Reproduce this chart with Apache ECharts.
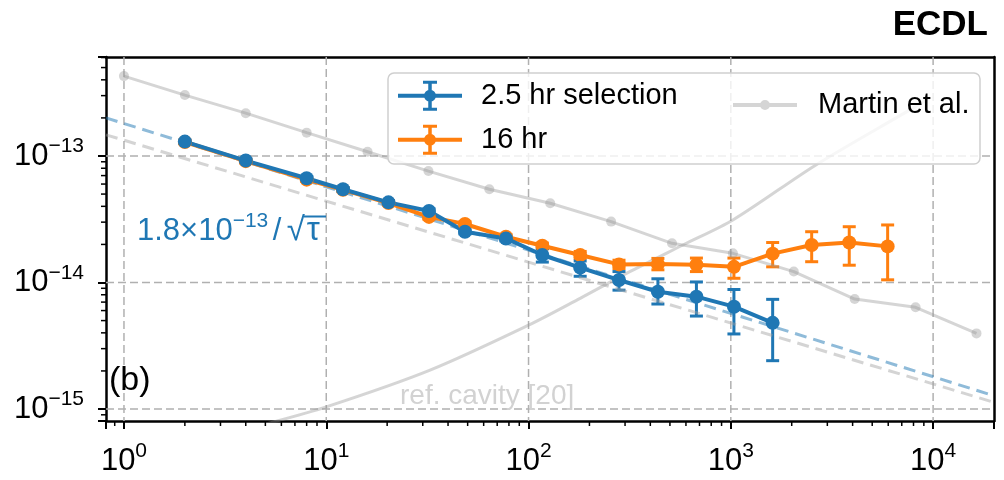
<!DOCTYPE html>
<html><head><meta charset="utf-8">
<script src="https://cdn.jsdelivr.net/npm/echarts@6/dist/echarts.min.js"></script>
<style>html,body{margin:0;padding:0;background:#fff}#c{width:1004px;height:480px}</style>
</head><body><div id="c"></div>
<script>
// ---------- data ----------
const blueTau = [2, 4, 8, 12.1, 20.3, 32.2, 48.5, 77.3, 117, 180, 280, 436, 676, 1036, 1610];
const blueDev = [1.30e-13, 9.2e-14, 6.67e-14, 5.46e-14, 4.3e-14, 3.67e-14, 2.52e-14, 2.23e-14, 1.65e-14, 1.31e-14, 1.047e-14, 8.45e-15, 7.73e-15, 6.44e-15, 4.8e-15];
const blueLo  = [1.26e-13, 8.9e-14, 6.45e-14, 5.28e-14, 4.15e-14, 3.52e-14, 2.42e-14, 2.13e-14, 1.45e-14, 1.12e-14, 8.7e-15, 6.76e-15, 5.43e-15, 3.92e-15, 2.41e-15];
const blueHi  = [1.34e-13, 9.5e-14, 6.9e-14, 5.64e-14, 4.45e-14, 3.82e-14, 2.62e-14, 2.33e-14, 1.85e-14, 1.48e-14, 1.22e-14, 1.07e-14, 1.01e-14, 8.8e-15, 7.36e-15];

const orangeTau = [2, 4, 8, 12.1, 20.3, 32.2, 48.5, 77.3, 117, 180, 280, 436, 676, 1036, 1610, 2510, 3850, 5960];
const orangeDev = [1.29e-13, 9.1e-14, 6.5e-14, 5.4e-14, 4.25e-14, 3.3e-14, 2.9e-14, 2.3e-14, 1.95e-14, 1.65e-14, 1.39e-14, 1.40e-14, 1.38e-14, 1.33e-14, 1.69e-14, 1.98e-14, 2.07e-14, 1.93e-14];
const orangeLo  = [1.25e-13, 8.8e-14, 6.3e-14, 5.22e-14, 4.1e-14, 3.17e-14, 2.78e-14, 2.2e-14, 1.85e-14, 1.55e-14, 1.29e-14, 1.26e-14, 1.22e-14, 1.08e-14, 1.33e-14, 1.46e-14, 1.37e-14, 1.05e-14];
const orangeHi  = [1.33e-13, 9.4e-14, 6.7e-14, 5.58e-14, 4.4e-14, 3.43e-14, 3.02e-14, 2.4e-14, 2.05e-14, 1.76e-14, 1.50e-14, 1.55e-14, 1.56e-14, 1.56e-14, 2.07e-14, 2.52e-14, 2.76e-14, 2.85e-14];

const martinTau = [1, 2, 4, 8, 16, 32, 64, 128, 256, 512, 1024, 2048, 4096, 8192, 16384];
const martinDev = [4.28e-13, 3.03e-13, 2.18e-13, 1.53e-13, 1.08e-13, 7.6e-14, 5.46e-14, 4.23e-14, 3.03e-14, 2.04e-14, 1.7e-14, 1.22e-14, 7.4e-15, 6.37e-15, 3.96e-15];

const cavityTau = [5, 10, 32.6, 100, 180, 305, 580, 1024, 2634, 7940, 9600];
const cavityDev = [7.6e-16, 1.04e-15, 2.03e-15, 4.6e-15, 7.5e-15, 1.18e-14, 1.98e-14, 3.12e-14, 8.5e-14, 2.39e-13, 2.87e-13];

// straight guide lines on log-log axes: end points at the plot edges
const fitTau = [0.815, 20000];
const fitDev = [2.0e-13, 1.273e-15];      // 1.8e-13 / sqrt(tau)
const refTau = [0.815, 20000];
const refDev = [1.47e-13, 1.13e-15];

// axes
const xMin = 0.815, xMax = 20000, yMin = 8.04e-16, yMax = 6.06e-13;
const xMajor = [1, 10, 100, 1000, 10000];
const yMajor = [1e-15, 1e-14, 1e-13];
const legendNames = ['2.5 hr selection', '16 hr', 'Martin et al.'];

// ---------- helpers ----------
const FONT = "'Liberation Sans', Arial, sans-serif";
const BLUE = '#1f77b4', ORANGE = '#ff7f0e';
const GRAYA = 'rgba(150,150,150,0.4)';
const zip = (a, b) => a.map((v, i) => [v, b[i]]);
const GRID = { left: 106, top: 57, right: 10, bottom: 59 };

function minorValues(lo, hi, e0, e1) {
  const out = [];
  for (let e = e0; e <= e1; e++) for (let m = 2; m <= 9; m++) {
    const v = m * Math.pow(10, e);
    if (v >= lo && v <= hi) out.push(v);
  }
  return out;
}
const xMinor = minorValues(xMin, xMax, -1, 4);
const yMinor = minorValues(yMin, yMax, -16, -13);

function powLabel(v) {
  const e = Math.log10(v), r = Math.round(e);
  if (Math.abs(e - r) > 1e-6) return '';
  const s = r < 0 ? '\u2212' + (-r) : String(r);
  return '{b|10}{s|' + s + '}';
}
const labelRich = {
  b: { fontSize: 31, lineHeight: 40, fontFamily: FONT, color: '#000' },
  s: { fontSize: 21, lineHeight: 14, verticalAlign: 'top', fontFamily: FONT, color: '#000' }
};

function errSeries(name, xs, lo, hi, color) {
  return {
    type: 'custom', name: name, silent: true, clip: false,
    data: xs.map((x, i) => [x, lo[i], hi[i]]),
    encode: { x: 0, y: [1, 2] },
    renderItem: (params, api) => {
      const x = api.value(0);
      const a = api.coord([x, api.value(1)]), b = api.coord([x, api.value(2)]);
      const hw = 6.5, st = { stroke: color, lineWidth: 3 };
      return { type: 'group', children: [
        { type: 'line', shape: { x1: a[0], y1: a[1], x2: b[0], y2: b[1] }, style: st },
        { type: 'line', shape: { x1: a[0] - hw, y1: a[1], x2: a[0] + hw, y2: a[1] }, style: st },
        { type: 'line', shape: { x1: b[0] - hw, y1: b[1], x2: b[0] + hw, y2: b[1] }, style: st }
      ]};
    }
  };
}

// short ticks (minor) or full dashed grid lines (major) placed via the axes' scales
function tickSeries(name, vals, isX, kind) {
  return {
    type: 'custom', name: name, silent: true, clip: false, z: kind === 'grid' ? 1 : 5,
    data: vals.map(v => isX ? [v, 1e-14] : [10, v]),
    renderItem: (params, api) => {
      const p = api.coord([api.value(0), api.value(1)]);
      const cs = params.coordSys;
      if (kind === 'grid') {
        const st = { stroke: '#b0b0b0', lineWidth: 1.5, lineDash: [8, 4] };
        return isX
          ? { type: 'line', shape: { x1: p[0], y1: cs.y, x2: p[0], y2: cs.y + cs.height }, style: st }
          : { type: 'line', shape: { x1: cs.x, y1: p[1], x2: cs.x + cs.width, y2: p[1] }, style: st };
      }
      const st = { stroke: '#000', lineWidth: 1.5 };
      if (isX) {
        const yb = cs.y + cs.height;
        return { type: 'line', shape: { x1: p[0], y1: yb, x2: p[0], y2: yb + 5 }, style: st };
      }
      return { type: 'line', shape: { x1: cs.x, y1: p[1], x2: cs.x - 5, y2: p[1] }, style: st };
    }
  };
}

const EB_ICON = 'path://M0 13H64V17H0Z M30.25 1H33.75V29H30.25Z M25 0H39V3H25Z M25 27H39V30H25Z M26 15A6 6 0 1 1 38 15A6 6 0 1 1 26 15Z';
const M_ICON = 'path://M0 3H64V7H0Z M27 5A5 5 0 1 1 37 5A5 5 0 1 1 27 5Z';

const axisCommon = {
  type: 'log', logBase: 10,
  axisLine: { show: true, onZero: false, lineStyle: { color: '#000', width: 2.5 } },
  axisTick: { show: true, inside: false, length: 8, lineStyle: { color: '#000', width: 2 } },
  minorTick: { show: false },
  splitLine: { show: false },
  minorSplitLine: { show: false },
  axisLabel: { formatter: powLabel, rich: labelRich, showMinLabel: true, showMaxLabel: true }
};
// frame-only axes (top and right)
const frameAxis = {
  type: 'log', logBase: 10,
  axisLine: { show: true, onZero: false, lineStyle: { color: '#000', width: 2.5 } },
  axisTick: { show: false }, axisLabel: { show: false }, splitLine: { show: false },
  minorTick: { show: false }, minorSplitLine: { show: false }
};

const chart = echarts.init(document.getElementById('c'), null, { renderer: 'canvas' });
chart.setOption({
  animation: false,
  backgroundColor: '#fff',
  grid: Object.assign({ show: false, containLabel: false, outerBoundsMode: 'none' }, GRID),
  xAxis: [
    Object.assign({}, axisCommon, { min: xMin, max: xMax, position: 'bottom',
      axisLabel: Object.assign({}, axisCommon.axisLabel, { margin: 20 }) }),
    Object.assign({}, frameAxis, { min: xMin, max: xMax, position: 'top' })
  ],
  yAxis: [
    Object.assign({}, axisCommon, { min: yMin, max: yMax, position: 'left',
      axisLabel: Object.assign({}, axisCommon.axisLabel, { margin: 22 }) }),
    Object.assign({}, frameAxis, { min: yMin, max: yMax, position: 'right' })
  ],
  legend: [
    { orient: 'vertical', left: 398, top: 80.7, padding: 0, itemWidth: 64, itemHeight: 30, itemGap: 14,
      selectedMode: false, z: 60,
      data: [{ name: legendNames[0], icon: EB_ICON }, { name: legendNames[1], icon: EB_ICON }],
      itemStyle: { borderWidth: 0 },
      textStyle: { fontSize: 29, lineHeight: 30, fontFamily: FONT, color: '#000', padding: [0, 0, 0, 14] } },
    { orient: 'vertical', left: 733, top: 90, padding: 0, itemWidth: 64, itemHeight: 10,
      selectedMode: false, z: 60,
      data: [{ name: legendNames[2], icon: M_ICON }],
      itemStyle: { borderWidth: 0 },
      textStyle: { fontSize: 29, lineHeight: 30, fontFamily: FONT, color: '#000', padding: [0, 0, 0, 16] } }
  ],
  graphic: { elements: [
    { type: 'rect', z: 50, silent: true, shape: { x: 388, y: 73, width: 592, height: 91, r: 6 },
      style: { fill: 'rgba(255,255,255,0.8)', stroke: '#cfcfcf', lineWidth: 1.5 } },
    { type: 'text', z: 50, x: 137, y: 211, silent: true,
      style: { text: '{a|1.8\u00d710}{s|\u221213}{p|/}{r|\u221a}{t|\u03c4}', fill: BLUE,
        rich: {
          a: { fontSize: 31, lineHeight: 40, fontFamily: FONT, color: BLUE },
          s: { fontSize: 21, lineHeight: 22, verticalAlign: 'top', width: 40, fontFamily: FONT, color: BLUE },
          p: { fontSize: 31, lineHeight: 40, width: 14, fontFamily: FONT, color: BLUE },
          r: { fontSize: 33, lineHeight: 40, width: 20, fontFamily: FONT, color: BLUE },
          t: { fontSize: 33, lineHeight: 40, fontFamily: FONT, color: BLUE }
        } } },
    { type: 'line', z: 50, silent: true, shape: { x1: 304, y1: 216.5, x2: 326, y2: 216.5 },
      style: { stroke: BLUE, lineWidth: 2 } },
    { type: 'text', z: 50, left: 109, top: 364, silent: true,
      style: { text: '(b)', fontSize: 34, fontFamily: FONT, fill: '#000' } },
    { type: 'text', z: 50, left: 400, top: 382, silent: true,
      style: { text: 'ref. cavity [20]', fontSize: 28, fontFamily: FONT, fill: '#d2d2d2' } },
    { type: 'text', z: 50, right: 16, top: 8, silent: true,
      style: { text: 'ECDL', fontSize: 35, fontWeight: 'bold', fontFamily: FONT, fill: '#000' } }
  ]},
  series: [
    tickSeries('xGrid', xMajor, true, 'grid'),
    tickSeries('yGrid', yMajor, false, 'grid'),
    { type: 'line', name: 'refLine', data: zip(refTau, refDev), symbol: 'none', silent: true,
      lineStyle: { color: 'rgba(160,160,160,0.45)', width: 3, type: [12, 7] } },
    { type: 'line', name: 'fitLine', data: zip(fitTau, fitDev), symbol: 'none', silent: true,
      lineStyle: { color: 'rgba(31,119,180,0.5)', width: 3, type: [12, 7] } },
    { type: 'line', name: legendNames[2], data: zip(martinTau, martinDev), symbol: 'circle', symbolSize: 10,
      silent: true, color: GRAYA, itemStyle: { color: GRAYA, borderWidth: 0 },
      lineStyle: { color: GRAYA, width: 3 } },
    { type: 'line', name: 'cavity', data: zip(cavityTau, cavityDev), symbol: 'none', smooth: 0.3, silent: true,
      lineStyle: { color: GRAYA, width: 3 } },
    errSeries('orangeErr', orangeTau, orangeLo, orangeHi, ORANGE),
    { type: 'line', name: legendNames[1], data: zip(orangeTau, orangeDev), symbol: 'circle', symbolSize: 14,
      silent: true, color: ORANGE, itemStyle: { color: ORANGE, borderWidth: 0 }, lineStyle: { color: ORANGE, width: 4 } },
    errSeries('blueErr', blueTau, blueLo, blueHi, BLUE),
    { type: 'line', name: legendNames[0], data: zip(blueTau, blueDev), symbol: 'circle', symbolSize: 14,
      silent: true, color: BLUE, itemStyle: { color: BLUE, borderWidth: 0 }, lineStyle: { color: BLUE, width: 4 } },
    tickSeries('xMinor', xMinor, true, 'tick'),
    tickSeries('yMinor', yMinor, false, 'tick')
  ]
});
</script>
</body></html>
